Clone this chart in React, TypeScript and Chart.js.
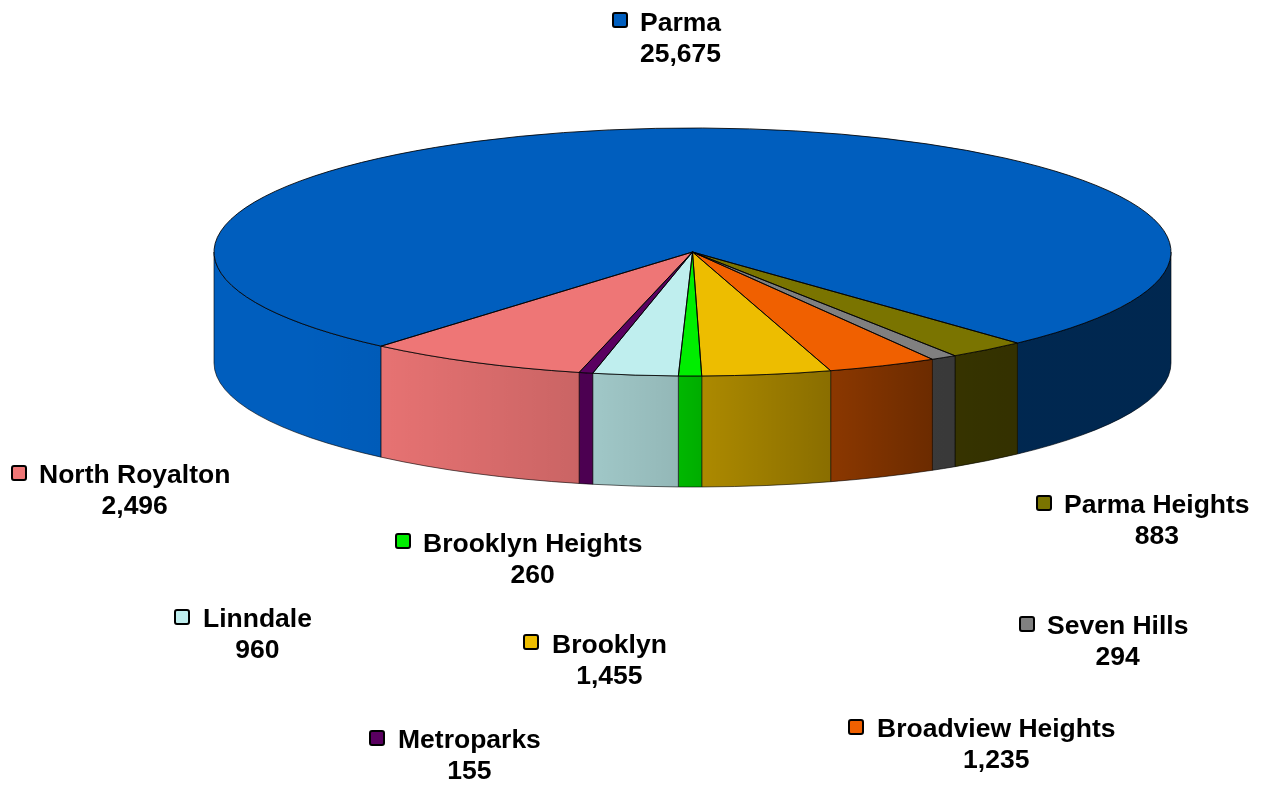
import React, { useEffect, useRef } from "react";
import { Chart, registerables } from "chart.js";

Chart.register(...registerables);

const categories = ["Parma", "Parma Heights", "Seven Hills", "Broadview Heights", "Brooklyn", "Brooklyn Heights", "Linndale", "Metroparks", "North Royalton"];
const population = [25675, 883, 294, 1235, 1455, 260, 960, 155, 2496];
const sliceColors = ["#005EBE", "#7A7400", "#808080", "#F06000", "#EDBD00", "#00EE00", "#BFEEEE", "#5A0060", "#EE7676"];

// Layout of the legend-style labels: [marker centre x, marker centre y, text left x, name centre y, value centre y]
const labelLayout = [
  [620, 20, 640, 23.5, 54.5],
  [1044, 503, 1064, 505.5, 536.5],
  [1027, 624, 1047, 626.5, 657.5],
  [856, 727, 877, 729.5, 760.5],
  [531, 642, 552, 645.5, 676.5],
  [403, 541, 423, 544.5, 575.5],
  [182, 617, 203, 619.5, 650.5],
  [377, 738, 398, 740.5, 771.5],
  [19, 473, 39, 475.5, 506.5],
];

const WIDTH = 1261;
const HEIGHT = 785;
const PIE = { cx: 692.5, cy: 252, rx: 478.5, ry: 124, depth: 111 };
const ROTATION = 220.6;
const FONT = 'bold 26.5px "Liberation Sans", Arial, sans-serif';

// Darkening of the side wall from left to right: [x, black alpha]
const wallShade: [number, number][] = [
  [214, 0], [300, 0], [380, 0.03], [575, 0.15], [680, 0.23], [700, 0.27],
  [830, 0.42], [930, 0.55], [1017, 0.58], [1171, 0.58],
];

const pie3d = {
  id: "pie3d",
  beforeDatasetsDraw(chart: any) {
    const ctx: CanvasRenderingContext2D = chart.ctx;
    const arcs = chart.getDatasetMeta(0).data;
    const { cx, cy, rx, ry, depth } = PIE;
    const shade = ctx.createLinearGradient(214, 0, 1171, 0);
    wallShade.forEach(([x, a]) => shade.addColorStop((x - 214) / (1171 - 214), `rgba(0,0,0,${a})`));

    arcs.forEach((arc: any, i: number) => {
      for (let k = -2; k <= 2; k++) {
        const s = Math.max(arc.startAngle + k * 2 * Math.PI, 0);
        const e = Math.min(arc.endAngle + k * 2 * Math.PI, Math.PI);
        if (s >= e) continue;
        const path = new Path2D();
        path.ellipse(cx, cy, rx, ry, 0, s, e);
        path.lineTo(cx + rx * Math.cos(e), cy + ry * Math.sin(e) + depth);
        path.ellipse(cx, cy + depth, rx, ry, 0, e, s, true);
        path.closePath();
        ctx.fillStyle = sliceColors[i];
        ctx.fill(path);
        ctx.fillStyle = shade;
        ctx.fill(path);
        ctx.strokeStyle = "rgba(0,0,0,0.6)";
        ctx.lineWidth = 1;
        ctx.stroke(path);
      }
    });

    const ox = arcs[0].x;
    const oy = arcs[0].y;
    const r = arcs[0].outerRadius;
    ctx.save();
    ctx.translate(cx, cy);
    ctx.scale(rx / r, ry / r);
    ctx.translate(-ox, -oy);
  },
  afterDatasetsDraw(chart: any) {
    const ctx: CanvasRenderingContext2D = chart.ctx;
    ctx.restore();
    const arcs = chart.getDatasetMeta(0).data;
    const { cx, cy, rx, ry } = PIE;
    arcs.forEach((arc: any) => {
      ctx.beginPath();
      ctx.moveTo(cx, cy);
      ctx.ellipse(cx, cy, rx, ry, 0, arc.startAngle, arc.endAngle);
      ctx.closePath();
      ctx.strokeStyle = "rgba(0,0,0,0.85)";
      ctx.lineWidth = 1;
      ctx.stroke();
    });

    ctx.font = FONT;
    ctx.textBaseline = "middle";
    categories.forEach((name, i) => {
      const [mx, my, tx, ny, vy] = labelLayout[i];
      ctx.beginPath();
      ctx.roundRect(mx - 7, my - 7, 14, 14, 2);
      ctx.fillStyle = sliceColors[i];
      ctx.fill();
      ctx.strokeStyle = "#000";
      ctx.lineWidth = 2;
      ctx.stroke();
      ctx.fillStyle = "#000";
      ctx.textAlign = "left";
      ctx.fillText(name, tx, ny);
      const w = ctx.measureText(name).width;
      ctx.textAlign = "center";
      ctx.fillText(population[i].toLocaleString("en-US"), tx + w / 2, vy);
    });
  },
};

export default function App() {
  const ref = useRef<HTMLCanvasElement>(null);
  useEffect(() => {
    const chart = new Chart(ref.current as HTMLCanvasElement, {
      type: "pie",
      data: {
        labels: categories,
        datasets: [{ data: population, backgroundColor: sliceColors, borderWidth: 0 }],
      },
      options: {
        animation: false,
        responsive: false,
        events: [],
        rotation: ROTATION,
        layout: { padding: 0 },
        plugins: { legend: { display: false }, tooltip: { enabled: false } },
      },
      plugins: [pie3d],
    } as any);
    return () => chart.destroy();
  }, []);
  return (
    <canvas
      ref={ref}
      width={WIDTH}
      height={HEIGHT}
      style={{ position: "fixed", left: 0, top: 0, width: WIDTH, height: HEIGHT, display: "block" }}
    />
  );
}
